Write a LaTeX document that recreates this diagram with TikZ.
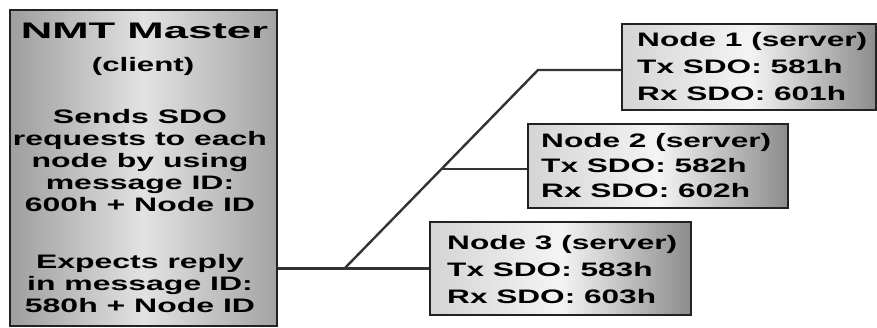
\documentclass[tikz,border=0pt]{standalone}
\usepackage{fontspec}
\setmainfont{Liberation Sans}
\usetikzlibrary{calc}
\definecolor{edge}{HTML}{222222}
\definecolor{lnk}{HTML}{333333}
\definecolor{mL}{HTML}{9E9E9E}
\definecolor{mM}{HTML}{E2E2E2}
\definecolor{mR}{HTML}{A4A4A4}
\definecolor{nL}{HTML}{D4D4D4}
\definecolor{nM}{HTML}{F4F4F4}
\definecolor{nR}{HTML}{8C8C8C}
\newcommand{\sx}[2]{\scalebox{#1}[1]{#2}}
\begin{document}
\begin{tikzpicture}[x=1pt,y=-1pt,
 mbox/.style={draw=edge,line width=2.2pt,rectangle,inner sep=0pt,left color=mL,right color=mR,middle color=mM},
 sbox/.style={draw=edge,line width=2.2pt,rectangle,inner sep=0pt,left color=nL,right color=nR,middle color=nM},
 link/.style={draw=lnk,line width=2.4pt},
 txt/.style={inner sep=0pt,text=black,font=\bfseries}]
\useasboundingbox (0,0) rectangle (877,328);
\node[mbox, minimum width=267pt, minimum height=316pt] (master) at (143.5,168) {};
\node[sbox, minimum width=254pt, minimum height=86pt] (n1) at (749,67) {};
\node[sbox, minimum width=260pt, minimum height=84pt] (n2) at (658,166) {};
\node[sbox, minimum width=261pt, minimum height=93pt] (n3) at (560.5,268.5) {};
\coordinate (j1) at (345,268);
\coordinate (j2) at (538,70);
\coordinate (b2) at ($(j1)!0.5!(j2)$);
\draw[link] (master.east |- n3.west) -- (n3.west);
\draw[link] (j1) -- (j2) -- (j2 -| n1.west);
\draw[link] (b2) -- (b2 -| n2.west);
\node[txt,anchor=base] (title) at (144.5,39) {\fontsize{22.5}{26}\selectfont\sx{1.94}{NMT Master}};
\node[txt,anchor=base] (client) at (143,72) {\fontsize{19.5}{22}\selectfont\sx{1.6}{(client)}};
\node[txt,anchor=base] (send) at (140,124) {\fontsize{19.5}{21.8}\selectfont\sx{1.64}{\begin{tabular}[t]{@{}c@{}}Sends SDO\\requests to each\\node by using\\message ID:\\600h + Node ID\end{tabular}}};
\node[txt,anchor=base] (reply) at (140,269) {\fontsize{19.5}{22}\selectfont\sx{1.64}{\begin{tabular}[t]{@{}c@{}}Expects reply\\in message ID:\\580h + Node ID\end{tabular}}};
\node[txt,anchor=base west] (t1) at (637,47) {\fontsize{19.5}{26.7}\selectfont\sx{1.62}{\begin{tabular}[t]{@{}l@{}}Node 1 (server)\\Tx SDO: 581h\\Rx SDO: 601h\end{tabular}}};
\node[txt,anchor=base west] (t2) at (541,148) {\fontsize{19.5}{25}\selectfont\sx{1.62}{\begin{tabular}[t]{@{}l@{}}Node 2 (server)\\Tx SDO: 582h\\Rx SDO: 602h\end{tabular}}};
\node[txt,anchor=base west] (t3) at (447,250) {\fontsize{19.5}{26.7}\selectfont\sx{1.62}{\begin{tabular}[t]{@{}l@{}}Node 3 (server)\\Tx SDO: 583h\\Rx SDO: 603h\end{tabular}}};
\end{tikzpicture}
\end{document}
